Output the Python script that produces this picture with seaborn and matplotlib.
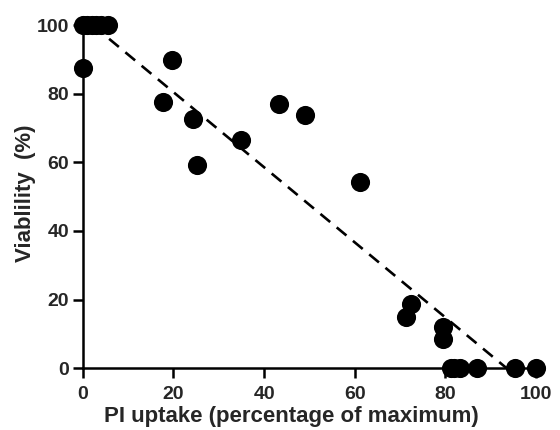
import numpy as np
import pandas as pd
import seaborn as sns
import matplotlib
matplotlib.use("Agg")
import matplotlib.pyplot as plt

# PI uptake vs viability
pi_uptake = [0, 1, 2, 3, 4, 5.5, 0, 17.6, 19.6, 24.2, 25.1, 34.8, 43.3, 49.0,
             61.1, 71.3, 72.5, 79.4, 79.4, 81.2, 82.0, 83.2, 86.9, 95.4, 100.0]
viability = [100, 100, 100, 100, 100, 100, 87.5, 77.6, 89.8, 72.8, 59.4, 66.6,
             77.2, 73.8, 54.3, 15.0, 18.8, 12.0, 8.6, 0, 0, 0, 0, 0, 0]

# regression line end points
fit_x = [2.2, 93.5]
fit_y = [100, 0]

df = pd.DataFrame({"pi": pi_uptake, "viab": viability})

sns.set_style("ticks")
plt.rcParams["font.family"] = ["Liberation Sans", "DejaVu Sans"]
plt.rcParams["font.weight"] = "bold"

fig = plt.figure(figsize=(5.6, 4.3), dpi=100)
ax = fig.add_axes([0.148, 0.144, 0.809, 0.797])

ax.plot(fit_x, fit_y, color="black", lw=1.9, ls=(0, (4.8, 3.2)), zorder=2)
sns.scatterplot(data=df, x="pi", y="viab", ax=ax, color="black", s=190,
                edgecolor="black", linewidth=0, clip_on=False, zorder=3,
                legend=False)

ax.set_xlim(0, 100)
ax.set_ylim(0, 100)
ax.set_xticks([0, 20, 40, 60, 80, 100])
ax.set_yticks([0, 20, 40, 60, 80, 100])
ax.set_xlabel("PI uptake (percentage of maximum)", fontsize=16, fontweight="bold")
ax.set_ylabel("Viablility  (%)", fontsize=16, fontweight="bold")
ax.xaxis.set_label_coords(0.461, -0.112)
ax.yaxis.set_label_coords(-0.103, 0.51)
ax.tick_params(axis="both", labelsize=14, width=1.8, length=7, color="black")
ax.tick_params(axis="x", pad=6)
ax.tick_params(axis="y", pad=3)
for lab in ax.get_xticklabels() + ax.get_yticklabels():
    lab.set_fontweight("bold")

sns.despine(ax=ax)
for side in ["left", "bottom"]:
    ax.spines[side].set_linewidth(1.8)
    ax.spines[side].set_color("black")

fig.savefig("out.png", dpi=100, facecolor="white")
